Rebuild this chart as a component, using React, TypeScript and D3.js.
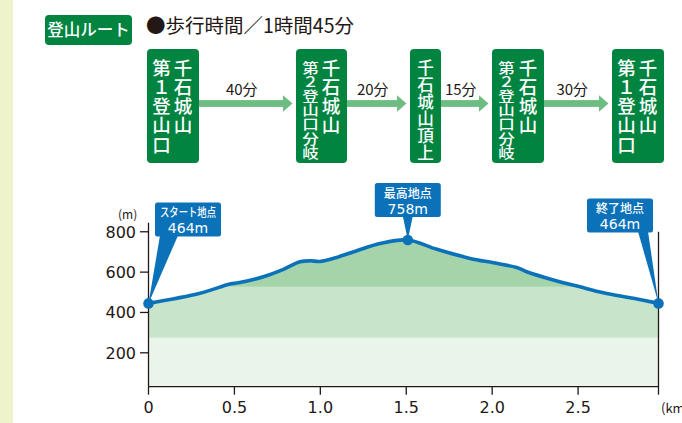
import * as d3 from 'd3';

// route summary
const totalTime = "1時間45分";
const stationNames: string[][] = [
    ["千石城山", "第１登山口"],
    ["千石城山", "第２登山口分岐"],
    ["千石城山頂上"],
    ["千石城山", "第２登山口分岐"],
    ["千石城山", "第１登山口"],
];
const legTimes = ["40分", "20分", "15分", "30分"];

// elevation profile (km, m)
const distance = [0, 0.30, 0.474, 0.523, 0.668, 0.785, 0.882, 0.94, 0.998, 1.095, 1.212, 1.348, 1.509, 1.678, 1.872, 2.007, 2.143, 2.201, 2.356, 2.511, 2.647, 2.822, 2.968];
const elevation = [445, 495, 541, 547, 577, 614, 651, 656, 653, 673, 706, 742, 759, 713, 668, 646, 623, 602, 561, 527, 498, 470, 445];
const bandBreaks = [275, 527];
const yTicks = [200, 400, 600, 800];
const xTicks = [0, 0.5, 1.0, 1.5, 2.0, 2.5];
const callouts = [
    { title: "スタート地点", value: "464m", idx: 0 },
    { title: "最高地点", value: "758m", idx: 12 },
    { title: "終了地点", value: "464m", idx: 22 },
];

const W = 682, H = 423;
const JP = '"Noto Sans CJK JP", "Noto Sans", sans-serif';
const NUM = '"DejaVu Sans", sans-serif';
const INK = "#231815";
const GREEN = "#00843f";
const ARROW = "#6dbd82";
const BLUE = "#0b72ba";

// layout of the route boxes
const boxX = [147, 296, 410, 492, 612];
const boxTop = 49, boxBottom = 163;

const App = () => {
    const x = d3.scaleLinear().domain([0, distance[distance.length - 1]]).range([148.5, 658.5]);
    const y = d3.scaleLinear().domain([32, 845]).range([386.7, 222.7]);
    const yMin = 32, yMax = 845;

    const pts = distance.map((d, i) => [d, elevation[i]] as [number, number]);
    const line = d3.line<[number, number]>().x(d => x(d[0])).y(d => y(d[1])).curve(d3.curveCatmullRom.alpha(0.5));
    const area = d3.area<[number, number]>().x(d => x(d[0])).y0(y(yMin)).y1(d => y(d[1])).curve(d3.curveCatmullRom.alpha(0.5));

    const bands = [
        { lo: yMin, hi: bandBreaks[0], color: "#e9f4ea" },
        { lo: bandBreaks[0], hi: bandBreaks[1], color: "#c8e5cb" },
        { lo: bandBreaks[1], hi: yMax, color: "#a5d4aa" },
    ];

    const boxes = stationNames.map((cols, i) => {
        const w = cols.length > 1 ? (i === 1 ? 51 : 52) : 31;
        return { x: boxX[i], w, cols };
    });

    const xEnd = x.range()[1];

    return (
        <svg width={W} height={H} style={{ position: 'absolute', left: 0, top: 0, display: 'block', background: '#fff' }}>
            <rect x={0} y={0} width={13} height={H} fill="#eef3cc" />

            {/* header */}
            <rect x={45} y={15} width={87} height={30} rx={4} fill={GREEN} />
            <text x={88.5} y={36} textAnchor="middle" fontFamily={JP} fontSize={16.5} fontWeight={500} fill="#fff">登山ルート</text>
            <text x={146} y={33} fontFamily={JP} fontSize={19.5} fill={INK}>{`●歩行時間／${totalTime}`}</text>

            {/* arrows between stations */}
            {legTimes.map((t, i) => {
                const x0 = boxes[i].x + boxes[i].w;
                const tip = boxes[i + 1].x - 3.5;
                const cy = 103.5;
                return (
                    <g key={i}>
                        <rect x={x0} y={cy - 3.4} width={tip - 9.5 - x0} height={6.8} fill={ARROW} />
                        <path d={`M${tip - 9.5},${cy - 8.3} L${tip},${cy} L${tip - 9.5},${cy + 8.3} Z`} fill={ARROW} />
                        <text x={(x0 + tip) / 2 - 4} y={95} textAnchor="middle" fontFamily={JP} fontSize={15} fill={INK}>{t}</text>
                    </g>
                );
            })}

            {/* station boxes with vertical text, one glyph per text */}
            {boxes.map((b, i) => (
                <g key={i}>
                    <rect x={b.x} y={boxTop} width={b.w} height={boxBottom - boxTop} rx={4} fill={GREEN} />
                    {b.cols.map((col, ci) => {
                        const chars = Array.from(col);
                        const pitch = Math.min(19.3, 85 / (chars.length - 1));
                        const size = Math.min(18.5, pitch - 0.4);
                        const sx = pitch < 16 ? 1.2 : 1;
                        const cx = b.cols.length === 1 ? b.x + b.w / 2 : (ci === 0 ? b.x + b.w - 16 : b.x + 14.5);
                        return chars.map((ch, k) => (
                            <text key={`${ci}-${k}`} x={0} y={0} fontFamily={JP} fontSize={size} fontWeight={500} fill="#fff"
                                style={{ writingMode: 'vertical-rl', textOrientation: 'upright' } as any}
                                transform={`translate(${cx},${67.5 + k * pitch - size / 2}) scale(${sx},1)`}>{ch}</text>
                        ));
                    })}
                </g>
            ))}

            {/* elevation profile */}
            <defs>
                <clipPath id="profileClip">
                    <path d={area(pts) || ''} />
                </clipPath>
            </defs>
            <g clipPath="url(#profileClip)">
                {bands.map((b, i) => (
                    <rect key={i} x={x.range()[0]} y={y(b.hi)} width={xEnd - x.range()[0]} height={y(b.lo) - y(b.hi)} fill={b.color} />
                ))}
            </g>

            {/* axes */}
            <line x1={x(0)} x2={x(0)} y1={y(yMax)} y2={y(yMin)} stroke={INK} strokeWidth={1.3} />
            <line x1={x(0)} x2={xEnd} y1={y(yMin)} y2={y(yMin)} stroke={INK} strokeWidth={1.3} />
            <line x1={xEnd} x2={xEnd} y1={y(800)} y2={y(yMin) + 8} stroke={INK} strokeWidth={1.3} />
            {yTicks.map(t => (
                <g key={t} transform={`translate(0,${y(t)})`}>
                    <line x1={x(0) - 8.5} x2={x(0)} stroke={INK} strokeWidth={1.3} />
                    <text x={136} dy="0.36em" textAnchor="end" fontFamily={NUM} fontSize={16} fill={INK}>{t}</text>
                </g>
            ))}
            {xTicks.map(t => (
                <g key={t} transform={`translate(${x(t)},${y(yMin)})`}>
                    <line y1={0} y2={8} stroke={INK} strokeWidth={1.3} />
                    <text y={26} textAnchor="middle" fontFamily={NUM} fontSize={16} fill={INK}>{t === 0 ? "0" : t.toFixed(1)}</text>
                </g>
            ))}
            <text x={118} y={219} fontFamily={JP} fontSize={12} fill={INK}>(m)</text>
            <text x={661} y={413} fontFamily={JP} fontSize={13} fill={INK}>(km)</text>

            <path d={line(pts) || ''} fill="none" stroke={BLUE} strokeWidth={3.6} strokeLinejoin="round" strokeLinecap="round" />

            {/* callouts */}
            {callouts.map((c, i) => {
                const px = x(distance[c.idx]);
                const py = y(elevation[c.idx]);
                const bw = 66, bh = 34;
                let left: number, top: number, b0: number, b1: number;
                if (i === 0) { left = px + 6.5; top = py - 101; b0 = left + 5; b1 = left + 23; }
                else if (i === callouts.length - 1) { left = px - 71.5; top = py - 105; b0 = left + 51; b1 = left + 61; }
                else { left = px - 33; top = py - 57; b0 = px - 5; b1 = px + 5; }
                const cx = left + bw / 2;
                const isLong = c.title.length > 4;
                return (
                    <g key={i}>
                        <path d={`M${b0},${top + bh - 1} L${px},${py} L${b1},${top + bh - 1} Z`} fill={BLUE} />
                        <rect x={left} y={top} width={bw} height={bh} rx={2.5} fill={BLUE} />
                        <text x={cx} y={top + 15} textAnchor="middle" fontFamily={JP} fontSize={12} fontWeight={500} fill="#fff"
                            textLength={isLong ? 56 : undefined} lengthAdjust={isLong ? "spacingAndGlyphs" : undefined}>{c.title}</text>
                        <text x={cx} y={top + 30.5} textAnchor="middle" fontFamily={NUM} fontSize={14} fill="#fff">{c.value}</text>
                        <circle cx={px} cy={py} r={5.3} fill={BLUE} />
                    </g>
                );
            })}
        </svg>
    );
};

export default App;
